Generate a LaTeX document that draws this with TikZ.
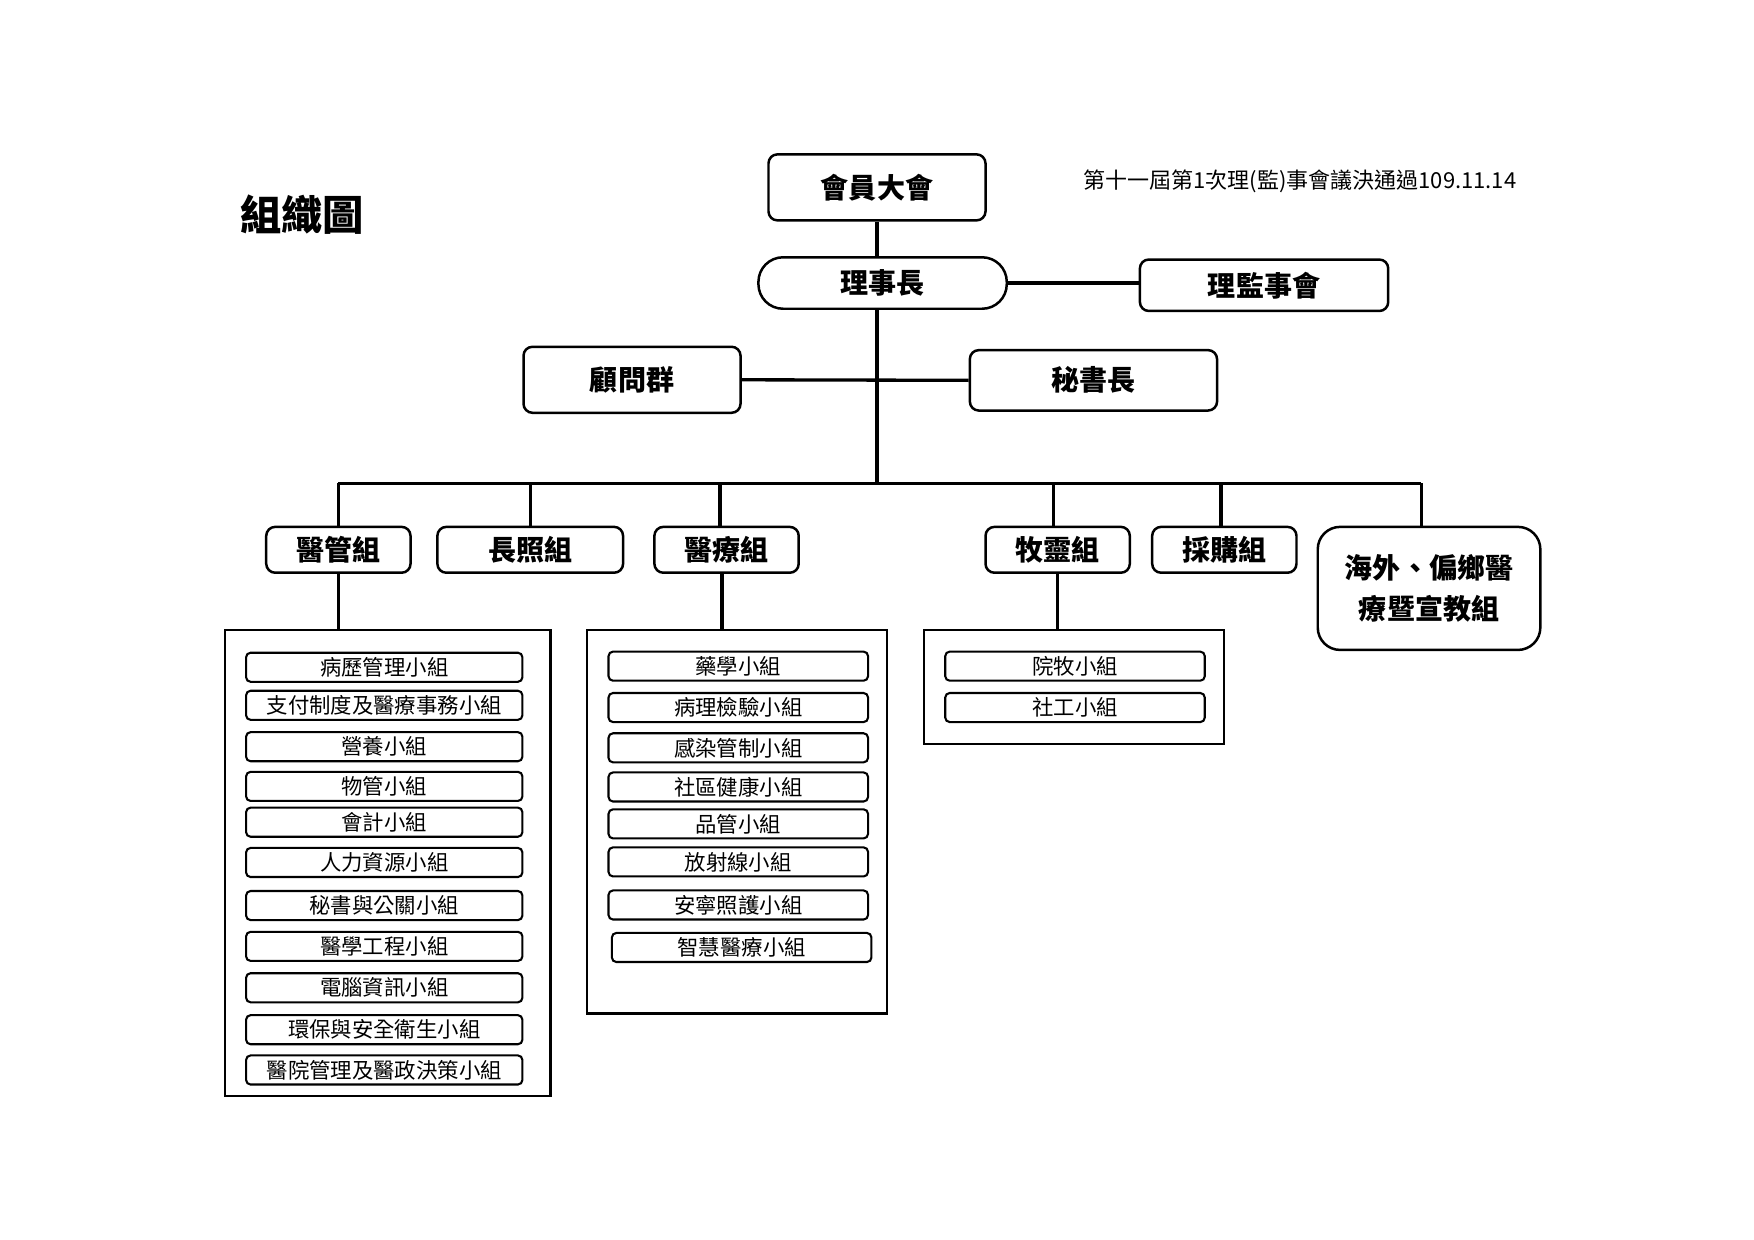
\documentclass[tikz,border=0pt]{standalone}
\usepackage{fontspec}
\setmainfont{Noto Sans CJK TC}
\usetikzlibrary{positioning}
\newcommand{\pxu}{0.018941cm}

\begin{document}
\begin{tikzpicture}[x=0.018941cm, y=-0.018941cm,
    grp/.style={draw, line width=1.2pt, rounded corners=8*\pxu, inner sep=0pt,
      align=center, font=\bfseries\fontsize{13.5}{19.5}\selectfont},
    pill/.style={grp, rounded corners=22*\pxu},
    panel/.style={draw, line width=1.1pt, inner sep=0pt},
    sub/.style={draw, line width=1pt, rounded corners=4*\pxu, inner sep=0pt,
      minimum height=26*\pxu, font=\fontsize{10.3}{12}\selectfont},
    asub/.style={sub, minimum width=247*\pxu},
    msub/.style={sub, minimum width=232*\pxu},
    link/.style={line width=1.6pt}]
  \useasboundingbox (0,0) rectangle (1568,1108.5);
  % heading and note
  \node[font=\bfseries\fontsize{19.9}{22}\selectfont] (title) at (270,192) {組織圖};
  \node[font=\fontsize{10.6}{12}\selectfont] (note) at (1162,162) {第十一屆第1次理(監)事會議決通過109.11.14};
  % top levels
  \node[grp, minimum width=194*\pxu, minimum height=59*\pxu] (assembly) at (784,167.5) {會員大會};
  \node[pill, minimum width=222*\pxu, minimum height=46*\pxu] (chair) at (789,253) {理事長};
  \node[grp, minimum width=222*\pxu, minimum height=46*\pxu] (board) at (1130,255) {理監事會};
  \node[grp, minimum width=194*\pxu, minimum height=59*\pxu] (advisors) at (565,339.5) {顧問群};
  \node[grp, minimum width=221*\pxu, minimum height=54*\pxu] (secretary) at (977.5,340) {秘書長};
  \coordinate (hub) at (784,432);
  % groups
  \node[grp, minimum width=129*\pxu, minimum height=41*\pxu] (admin) at (302.5,491.5) {醫管組};
  \node[grp, minimum width=166*\pxu, minimum height=41*\pxu] (ltc) at (474,491.5) {長照組};
  \node[grp, minimum width=129*\pxu, minimum height=41*\pxu] (medical) at (649.5,491.5) {醫療組};
  \node[grp, minimum width=129*\pxu, minimum height=41*\pxu] (pastoral) at (945.5,491.5) {牧靈組};
  \node[grp, minimum width=129*\pxu, minimum height=41*\pxu] (purchase) at (1094.5,491.5) {採購組};
  \node[grp, rounded corners=20*\pxu, minimum width=199*\pxu, minimum height=110*\pxu] (overseas) at (1277.5,526) {海外、偏鄉醫\\療暨宣教組};
  % panels
  \node[panel, minimum width=291*\pxu, minimum height=417*\pxu] (adminbox) at (346.5,771.5) {};
  \node[panel, minimum width=268*\pxu, minimum height=343*\pxu] (medbox) at (659,734.5) {};
  \node[panel, minimum width=268*\pxu, minimum height=102*\pxu] (pastbox) at (960,614) {};
  % admin teams
  \node[asub] (a1) at (343.5,596.5) {病歷管理小組};
  \node[asub] (a2) at (343.5,630.5) {支付制度及醫療事務小組};
  \node[asub] (a3) at (343.5,667.5) {營養小組};
  \node[asub] (a4) at (343.5,703) {物管小組};
  \node[asub] (a5) at (343.5,735) {會計小組};
  \node[asub] (a6) at (343.5,771) {人力資源小組};
  \node[asub] (a7) at (343.5,809.5) {秘書與公關小組};
  \node[asub] (a8) at (343.5,846) {醫學工程小組};
  \node[asub] (a9) at (343.5,883) {電腦資訊小組};
  \node[asub] (a10) at (343.5,920.5) {環保與安全衛生小組};
  \node[asub] (a11) at (343.5,956.5) {醫院管理及醫政決策小組};
  % medical teams
  \node[msub] (m1) at (660,595.5) {藥學小組};
  \node[msub] (m2) at (660,632.5) {病理檢驗小組};
  \node[msub] (m3) at (660,668.5) {感染管制小組};
  \node[msub] (m4) at (660,703.5) {社區健康小組};
  \node[msub] (m5) at (660,736.5) {品管小組};
  \node[msub] (m6) at (660,770.5) {放射線小組};
  \node[msub] (m7) at (660,809) {安寧照護小組};
  \node[msub] (m8) at (663,847) {智慧醫療小組};
  % pastoral teams
  \node[msub] (p1) at (961,595.5) {院牧小組};
  \node[msub] (p2) at (961,632.5) {社工小組};
  % connectors
  \draw[link] (assembly.south) -- (assembly.south |- chair.north);
  \draw[link] (assembly.south |- chair.south) -- (hub);
  \draw[link] (chair.east) -- (chair.east -| board.west);
  \draw[link] (advisors.east) -- (secretary.west);
  \draw[link] (hub -| admin.north) -- ([xshift=-7*\pxu]hub -| overseas.north);
  \draw[link] (hub -| admin.north) -- (admin.north);
  \draw[link] (hub -| ltc.north) -- (ltc.north);
  \draw[link] ([xshift=-6*\pxu]hub -| medical.north) -- ([xshift=-6*\pxu]medical.north);
  \draw[link] ([xshift=-4*\pxu]hub -| pastoral.north) -- ([xshift=-4*\pxu]pastoral.north);
  \draw[link] ([xshift=-3*\pxu]hub -| purchase.north) -- ([xshift=-3*\pxu]purchase.north);
  \draw[link] ([xshift=-7*\pxu]hub -| overseas.north) -- ([xshift=-7*\pxu]overseas.north);
  \draw[link] (admin.south) -- (admin.south |- adminbox.north);
  \draw[link] ([xshift=-4*\pxu]medical.south) -- ([xshift=-4*\pxu]medical.south |- medbox.north);
  \draw[link] (pastoral.south) -- (pastoral.south |- pastbox.north);
\end{tikzpicture}
\end{document}
